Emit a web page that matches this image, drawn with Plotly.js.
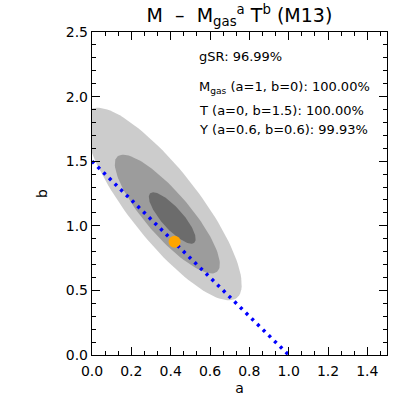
<!DOCTYPE html>
<html>
<head>
<meta charset="utf-8">
<script src="https://cdn.plot.ly/plotly-3.0.1.min.js"></script>
<style>html,body{margin:0;padding:0;background:#fff;}#chart{width:415px;height:415px;}</style>
</head>
<body>
<div id="chart"></div>
<script>
// Confidence ellipses (outer, middle, inner): centre and semi-axis vectors in data units (a, b)
const ellCenterA = [0.362, 0.383, 0.408];
const ellCenterB = [1.169, 1.091, 1.060];
const ellMajorA  = [0.374, 0.253, 0.112];
const ellMajorB  = [-0.727, -0.446, -0.191];
const ellMinorA  = [0.140, 0.085, 0.040];
const ellMinorB  = [0.166, 0.111, 0.055];
const ellColors  = ['#cccccc', '#9c9c9c', '#6c6c6c'];

// Best fit point
const bestA = [0.42];
const bestB = [0.877];

// Y-relation line (a + b/1.5 = 1)
const lineA = [0.0, 1.0];
const lineB = [1.5, 0.0];

// Text labels
const infoLines = [
  'gSR: 96.99%',
  'M<sub>gas</sub> (a=1, b=0): 100.00%',
  'T (a=0, b=1.5): 100.00%',
  'Y (a=0.6, b=0.6): 99.93%'
];
const infoY = [0.924, 0.828, 0.758, 0.699];

const NPTS = 120;
const traces = [];
for (let i = 0; i < ellCenterA.length; i++) {
  const xs = [], ys = [];
  for (let k = 0; k <= NPTS; k++) {
    const t = 2 * Math.PI * k / NPTS;
    xs.push(ellCenterA[i] + ellMajorA[i] * Math.cos(t) + ellMinorA[i] * Math.sin(t));
    ys.push(ellCenterB[i] + ellMajorB[i] * Math.cos(t) + ellMinorB[i] * Math.sin(t));
  }
  traces.push({x: xs, y: ys, mode: 'lines', fill: 'toself', fillcolor: ellColors[i],
    line: {width: 0, color: ellColors[i]}, hoverinfo: 'skip', showlegend: false});
}
traces.push({x: lineA, y: lineB, mode: 'lines',
  line: {color: '#0000ff', width: 3.5, dash: '3px,5px'}, showlegend: false});
traces.push({x: bestA, y: bestB, mode: 'markers',
  marker: {color: '#ffa500', size: 12}, showlegend: false});

const font = {family: 'DejaVu Sans, Verdana, sans-serif', color: '#000'};
const axisCommon = {
  showgrid: false, zeroline: false, showline: true, linecolor: '#000', linewidth: 1.2,
  mirror: 'allticks', ticks: 'inside', ticklen: 8, tickwidth: 1, tickcolor: '#000',
  tickformat: '.1f', tickfont: Object.assign({size: 14}, font)
};

const layout = {
  width: 415, height: 415,
  margin: {l: 92, r: 28, t: 32, b: 60},
  paper_bgcolor: '#fff', plot_bgcolor: '#fff',
  showlegend: false,
  title: {text: 'M\u00a0\u00a0–\u00a0\u00a0M<sub>gas</sub><sup>a</sup> T<sup>b</sup> (M13)',
    font: Object.assign({size: 19}, font), x: 0.577, xanchor: 'center', y: 0.962, yanchor: 'middle'},
  xaxis: Object.assign({}, axisCommon, {
    range: [0, 1.5], tick0: 0, dtick: 0.2, ticklabelstandoff: 3,
    minor: {tick0: 0, dtick: 0.2 / 3, ticklen: 4, tickcolor: '#000', ticks: 'inside'},
    title: {text: 'a', font: Object.assign({size: 14}, font), standoff: 5}
  }),
  yaxis: Object.assign({}, axisCommon, {
    range: [0, 2.5], tick0: 0, dtick: 0.5,
    minor: {tick0: 0, dtick: 0.1, ticklen: 4, tickcolor: '#000', ticks: 'inside'},
    title: {text: 'b', font: Object.assign({size: 14}, font), standoff: 14}
  }),
  annotations: infoLines.map((t, i) => ({
    text: t, xref: 'paper', yref: 'paper', x: 0.355, y: infoY[i],
    xanchor: 'left', yanchor: 'middle', showarrow: false,
    font: Object.assign({size: 13}, font)
  }))
};

Plotly.newPlot('chart', traces, layout, {displayModeBar: false, staticPlot: true});
</script>
</body>
</html>
